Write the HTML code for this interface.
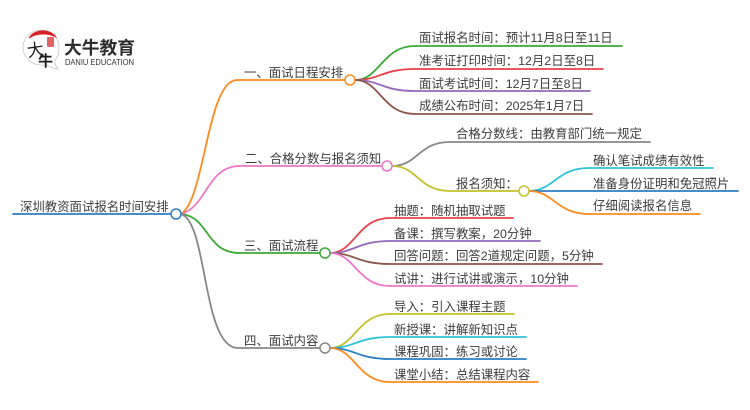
<!DOCTYPE html>
<html lang="zh">
<head>
<meta charset="utf-8">
<style>
html,body{margin:0;padding:0;background:#fff;}
body{width:750px;height:410px;overflow:hidden;}
svg{display:block;}
text{font-family:"Liberation Sans","Noto Sans CJK SC",sans-serif;font-size:12.4px;fill:#3c3c3c;}
path{fill:none;stroke-width:1.8;stroke-linecap:round;}
circle.n{fill:#fff;stroke-width:1.5;}
</style>
</head>
<body>
<svg width="750" height="410" viewBox="0 0 750 410" xmlns="http://www.w3.org/2000/svg">
<!-- logo -->
<path d="M41 30C31 30 23 38 23 47C23 57 31 65 41 65C46 65 50 66 53 68L58 69C56 66 54 64 55 60C58 57 59 52 59 47C59 38 51 30 41 30Z" style="stroke:#c4c4c4;stroke-width:.8"/>
<path d="M29 38C34 29 50 28 56 37C48 33 37 33 29 38Z" style="fill:#d8232a;stroke:#d8232a;stroke-width:.8"/>
<rect x="47" y="37" width="7" height="10" rx="1" fill="#e06464"/>
<text x="27" y="56" style="font-size:17px;fill:#1e1e1e" transform="rotate(-8 35 50)">大</text>
<text x="38" y="66" style="font-size:15px;fill:#1e1e1e;font-weight:bold">牛</text>
<text x="64" y="54" textLength="71" lengthAdjust="spacingAndGlyphs" style="font-size:17.8px;font-weight:bold;fill:#2e2e2e">大牛教育</text>
<text x="65" y="65" textLength="69" lengthAdjust="spacingAndGlyphs" style="font-size:8.5px;fill:#333">DANIU EDUCATION</text>

<!-- root -->
<path d="M13 214H171" stroke="#2b7fc3"/>
<!-- main branches -->
<path d="M181 214C205 200 207 80 237 80H345" stroke="#ff8a1f"/>
<path d="M181 214C207 207 207 166 240 166H382" stroke="#ee78c8"/>
<path d="M181 214C210 217 205 253 240 253H320" stroke="#3aaa35"/>
<path d="M181 214C208 222 202 348 238 348H320" stroke="#888888"/>
<!-- branch 1 -->
<path d="M355 80C380 80 382 46 415 46H622" stroke="#3aaa35"/>
<path d="M355 80C380 80 382 69 415 69H603" stroke="#e8404a"/>
<path d="M355 80C380 80 382 91 415 91H590" stroke="#9467bd"/>
<path d="M355 80C380 80 382 114 415 114H592" stroke="#8c564b"/>
<!-- branch 2 -->
<path d="M392 166C418 166 418 142 450 142H650" stroke="#888888"/>
<path d="M392 166C418 166 418 191 450 191H519" stroke="#c4c12e"/>
<path d="M529 191C554 191 556 168 589 168H713" stroke="#2bc4d8"/>
<path d="M529 191H738" stroke="#2b7fc3"/>
<path d="M529 191C554 191 556 214 589 214H700" stroke="#ff8a1f"/>
<!-- branch 3 -->
<path d="M330 253C355 253 357 218 390 218H513" stroke="#e8404a"/>
<path d="M330 253C355 253 357 241 390 241H540" stroke="#9467bd"/>
<path d="M330 253C355 253 357 264 390 264H602" stroke="#8c564b"/>
<path d="M330 253C355 253 357 286 390 286H577" stroke="#ee78c8"/>
<!-- branch 4 -->
<path d="M330 348C355 348 357 314 390 314H514" stroke="#c4c12e"/>
<path d="M330 348C355 348 357 337 390 337H526" stroke="#2bc4d8"/>
<path d="M330 348C355 348 357 359 390 359H526" stroke="#2b7fc3"/>
<path d="M330 348C355 348 357 382 390 382H538" stroke="#ff8a1f"/>
<!-- nodes -->
<circle class="n" cx="176" cy="214" r="5" stroke="#2b7fc3"/>
<circle class="n" cx="350" cy="80" r="5" stroke="#ff8a1f"/>
<circle class="n" cx="387" cy="166" r="5" stroke="#ee78c8"/>
<circle class="n" cx="325" cy="253" r="5" stroke="#3aaa35"/>
<circle class="n" cx="325" cy="348" r="5" stroke="#888888"/>
<circle class="n" cx="524" cy="191" r="5" stroke="#c4c12e"/>
<!-- labels -->
<text x="20" y="211">深圳教资面试报名时间安排</text>
<text x="244" y="77">一、面试日程安排</text>
<text x="245" y="163">二、合格分数与报名须知</text>
<text x="244" y="250">三、面试流程</text>
<text x="244" y="345">四、面试内容</text>
<text x="419" y="42">面试报名时间：预计11月8日至11日</text>
<text x="419" y="65">准考证打印时间：12月2日至8日</text>
<text x="419" y="88">面试考试时间：12月7日至8日</text>
<text x="419" y="110">成绩公布时间：2025年1月7日</text>
<text x="456" y="138">合格分数线：由教育部门统一规定</text>
<text x="456" y="188">报名须知：</text>
<text x="593" y="165">确认笔试成绩有效性</text>
<text x="593" y="188">准备身份证明和免冠照片</text>
<text x="593" y="210">仔细阅读报名信息</text>
<text x="394" y="215">抽题：随机抽取试题</text>
<text x="394" y="238">备课：撰写教案，20分钟</text>
<text x="394" y="260">回答问题：回答2道规定问题，5分钟</text>
<text x="394" y="283">试讲：进行试讲或演示，10分钟</text>
<text x="394" y="311">导入：引入课程主题</text>
<text x="394" y="334">新授课：讲解新知识点</text>
<text x="394" y="356">课程巩固：练习或讨论</text>
<text x="394" y="379">课堂小结：总结课程内容</text>
</svg>
</body>
</html>
